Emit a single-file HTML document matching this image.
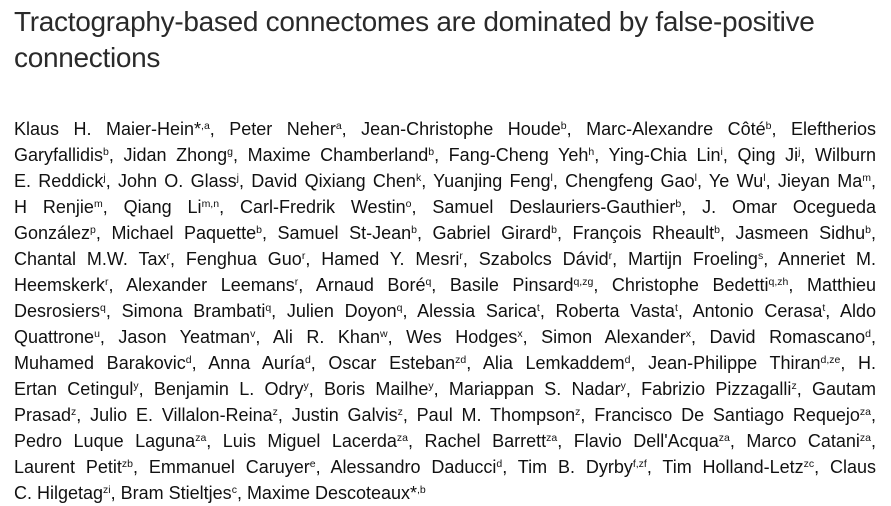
<!DOCTYPE html>
<html><head><meta charset="utf-8">
<style>
html,body{margin:0;padding:0;background:#fff;}
body{width:891px;height:502px;overflow:hidden;position:relative;font-family:"Liberation Sans",sans-serif;color:#111;}
.title{position:absolute;left:14px;top:4px;font-size:28px;line-height:36px;color:#2a2a2a;font-weight:normal;letter-spacing:-0.3px;white-space:nowrap;}
.authors{position:absolute;left:14px;top:116px;width:862px;}
.ln{height:26px;line-height:26px;font-size:18px;white-space:nowrap;}
.ln span{white-space:nowrap;}
sup{font-size:10.5px;line-height:0;vertical-align:6px;}
</style></head>
<body>
<div class="title">Tractography-based connectomes are dominated by false-positive<br>connections</div>
<div class="authors">
<div class="ln"><span>Klaus H. Maier-Hein*<sup>,a</sup>, Peter Neher<sup>a</sup>, Jean-Christophe Houde<sup>b</sup>, Marc-Alexandre Côté<sup>b</sup>, Eleftherios</span></div>
<div class="ln"><span>Garyfallidis<sup>b</sup>, Jidan Zhong<sup>g</sup>, Maxime Chamberland<sup>b</sup>, Fang-Cheng Yeh<sup>h</sup>, Ying-Chia Lin<sup>i</sup>, Qing Ji<sup>j</sup>, Wilburn</span></div>
<div class="ln"><span>E. Reddick<sup>j</sup>, John O. Glass<sup>j</sup>, David Qixiang Chen<sup>k</sup>, Yuanjing Feng<sup>l</sup>, Chengfeng Gao<sup>l</sup>, Ye Wu<sup>l</sup>, Jieyan Ma<sup>m</sup>,</span></div>
<div class="ln"><span>H Renjie<sup>m</sup>, Qiang Li<sup>m,n</sup>, Carl-Fredrik Westin<sup>o</sup>, Samuel Deslauriers-Gauthier<sup>b</sup>, J. Omar Ocegueda</span></div>
<div class="ln"><span>González<sup>p</sup>, Michael Paquette<sup>b</sup>, Samuel St-Jean<sup>b</sup>, Gabriel Girard<sup>b</sup>, François Rheault<sup>b</sup>, Jasmeen Sidhu<sup>b</sup>,</span></div>
<div class="ln"><span>Chantal M.W. Tax<sup>r</sup>, Fenghua Guo<sup>r</sup>, Hamed Y. Mesri<sup>r</sup>, Szabolcs Dávid<sup>r</sup>, Martijn Froeling<sup>s</sup>, Anneriet M.</span></div>
<div class="ln"><span>Heemskerk<sup>r</sup>, Alexander Leemans<sup>r</sup>, Arnaud Boré<sup>q</sup>, Basile Pinsard<sup>q,zg</sup>, Christophe Bedetti<sup>q,zh</sup>, Matthieu</span></div>
<div class="ln"><span>Desrosiers<sup>q</sup>, Simona Brambati<sup>q</sup>, Julien Doyon<sup>q</sup>, Alessia Sarica<sup>t</sup>, Roberta Vasta<sup>t</sup>, Antonio Cerasa<sup>t</sup>, Aldo</span></div>
<div class="ln"><span>Quattrone<sup>u</sup>, Jason Yeatman<sup>v</sup>, Ali R. Khan<sup>w</sup>, Wes Hodges<sup>x</sup>, Simon Alexander<sup>x</sup>, David Romascano<sup>d</sup>,</span></div>
<div class="ln"><span>Muhamed Barakovic<sup>d</sup>, Anna Auría<sup>d</sup>, Oscar Esteban<sup>zd</sup>, Alia Lemkaddem<sup>d</sup>, Jean-Philippe Thiran<sup>d,ze</sup>, H.</span></div>
<div class="ln"><span>Ertan Cetingul<sup>y</sup>, Benjamin L. Odry<sup>y</sup>, Boris Mailhe<sup>y</sup>, Mariappan S. Nadar<sup>y</sup>, Fabrizio Pizzagalli<sup>z</sup>, Gautam</span></div>
<div class="ln"><span>Prasad<sup>z</sup>, Julio E. Villalon-Reina<sup>z</sup>, Justin Galvis<sup>z</sup>, Paul M. Thompson<sup>z</sup>, Francisco De Santiago Requejo<sup>za</sup>,</span></div>
<div class="ln"><span>Pedro Luque Laguna<sup>za</sup>, Luis Miguel Lacerda<sup>za</sup>, Rachel Barrett<sup>za</sup>, Flavio Dell'Acqua<sup>za</sup>, Marco Catani<sup>za</sup>,</span></div>
<div class="ln"><span>Laurent Petit<sup>zb</sup>, Emmanuel Caruyer<sup>e</sup>, Alessandro Daducci<sup>d</sup>, Tim B. Dyrby<sup>f,zf</sup>, Tim Holland-Letz<sup>zc</sup>, Claus</span></div>
<div class="ln last"><span>C. Hilgetag<sup>zi</sup>, Bram Stieltjes<sup>c</sup>, Maxime Descoteaux*<sup>,b</sup></span></div>
</div>
<script>
var W = 862;
document.querySelectorAll('.ln:not(.last) span').forEach(function(s){
  var w = s.getBoundingClientRect().width;
  var spaces = (s.textContent.match(/ /g) || []).length;
  var chars = s.textContent.length;
  var ls = (W - w - spaces * 2) / chars;
  ls = Math.max(-1.2, Math.min(0, ls));
  s.style.letterSpacing = ls + 'px';
  w = s.getBoundingClientRect().width;
  if (spaces > 0) s.style.wordSpacing = ((W - w) / spaces) + 'px';
});
</script>
</body></html>
